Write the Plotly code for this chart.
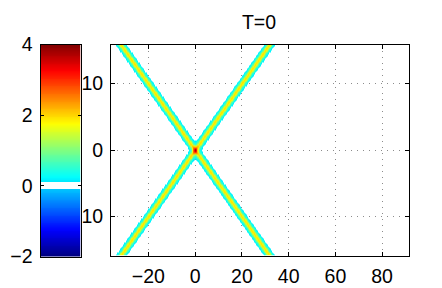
import numpy as np
import plotly.graph_objects as go

# ---- values ----
title_text = "T=0"
x_ticks = [-20, 0, 20, 40, 60, 80]
x_ticklabels = ["\u221220", "0", "20", "40", "60", "80"]
y_ticks = [-10, 0, 10]
y_ticklabels = ["10", "0", "10"]          # minus of -10 hidden behind the colour bar
cb_ticks = [-2, 0, 2, 4]
cb_ticklabels = ["\u22122", "0", "2", "4"]
x_range = [-36, 91.5]
y_range = [-15.9, 15.9]
c_range = [-2, 4]
white_band = [-0.085, 0.115]             # values drawn white in the colour map

# two line solitons crossing at the origin: x = +2y and x = -2y
line_slopes = [2.0, -2.0]                # dx/dy of each line
line_amplitudes = [1.95, 1.95]           # yellow core (~2)
line_width_k = 0.85                      # sech^2 steepness

# ---- field ----
xs = np.arange(x_range[0], x_range[1] + 0.25, 0.25)
ys = np.arange(-16.0, 16.0 + 0.125, 0.125)
X, Y = np.meshgrid(xs, ys)
Z = np.zeros_like(X)
for s, a in zip(line_slopes, line_amplitudes):
    Z += a / np.cosh(line_width_k * (X - s * Y)) ** 2

# ---- jet colour scale with a white band ----
def jet(p):
    r = np.clip(np.minimum(4 * p - 1.5, -4 * p + 4.5), 0, 1)
    g = np.clip(np.minimum(4 * p - 0.5, -4 * p + 3.5), 0, 1)
    b = np.clip(np.minimum(4 * p + 0.5, -4 * p + 2.5), 0, 1)
    return "rgb(%d,%d,%d)" % (round(255 * r), round(255 * g), round(255 * b))

span = c_range[1] - c_range[0]
p1 = (white_band[0] - c_range[0]) / span
p2 = (white_band[1] - c_range[0]) / span

def make_scale(white):
    stops = []
    for p in np.linspace(0, p1, 40):
        stops.append([float(p), jet(p)])
    stops.append([float(p1), white])
    stops.append([float(p2), white])
    for p in np.linspace(p2, 1, 70):
        stops.append([float(p), jet(p)])
    return stops

W, H = 442, 288
font = dict(family="Liberation Sans, Arial, Helvetica, sans-serif", size=19.5, color="black")

fig = go.Figure()
# main field: the white band is transparent so the dotted grid shows through
fig.add_trace(go.Heatmap(
    x=xs, y=ys, z=Z, colorscale=make_scale("rgba(255,255,255,0)"),
    zmin=c_range[0], zmax=c_range[1],
    showscale=False, zsmooth="best", hoverinfo="skip", xaxis="x", yaxis="y"))

cb_vals = np.linspace(c_range[0], c_range[1], 241)
fig.add_trace(go.Heatmap(
    x=[0], y=cb_vals, z=[[v] for v in cb_vals], colorscale=make_scale("rgb(255,255,255)"),
    zmin=c_range[0], zmax=c_range[1], showscale=False, hoverinfo="skip",
    xaxis="x2", yaxis="y2"))

grid = dict(showgrid=True, gridcolor="#8c8c8c", gridwidth=1, griddash="1px,5px")
axis_common = dict(showline=True, linecolor="black", linewidth=1, mirror="ticks",
                   ticks="inside", ticklen=4, tickcolor="black", tickwidth=1,
                   zeroline=False, tickfont=font, layer="above traces", automargin=False)

fig.update_layout(
    width=W, height=H, margin=dict(l=0, r=0, t=0, b=0, pad=0),
    paper_bgcolor="white", plot_bgcolor="white", showlegend=False,
    title=dict(text=title_text, x=259 / W, y=1 - 22 / H, xanchor="center",
               yanchor="middle", xref="paper", yref="paper", font=font, automargin=False),
    xaxis=dict(domain=[111 / W, 409 / W], range=x_range, tickvals=x_ticks,
               ticktext=x_ticklabels, anchor="y", ticklabelstandoff=3, **grid, **axis_common),
    yaxis=dict(domain=[1 - 255.5 / H, 1 - 44.5 / H], range=y_range, tickvals=y_ticks,
               ticktext=y_ticklabels, anchor="x", ticklabelstandoff=3, **grid, **axis_common),
    xaxis2=dict(domain=[40.5 / W, 80.5 / W], range=[-0.5, 0.5], showticklabels=False,
                showline=True, linecolor="black", mirror=True, ticks="", showgrid=False,
                zeroline=False, anchor="y2", automargin=False),
    yaxis2=dict(domain=[1 - 256.5 / H, 1 - 44.5 / H], range=c_range, tickvals=cb_ticks,
                ticktext=cb_ticklabels, anchor="x2", showgrid=False, ticklabelstandoff=3,
                **{**axis_common, "ticklen": 3}),
)

fig.write_html("out.html", config={"displayModeBar": False},
               post_script="document.body.style.margin='0px';")
